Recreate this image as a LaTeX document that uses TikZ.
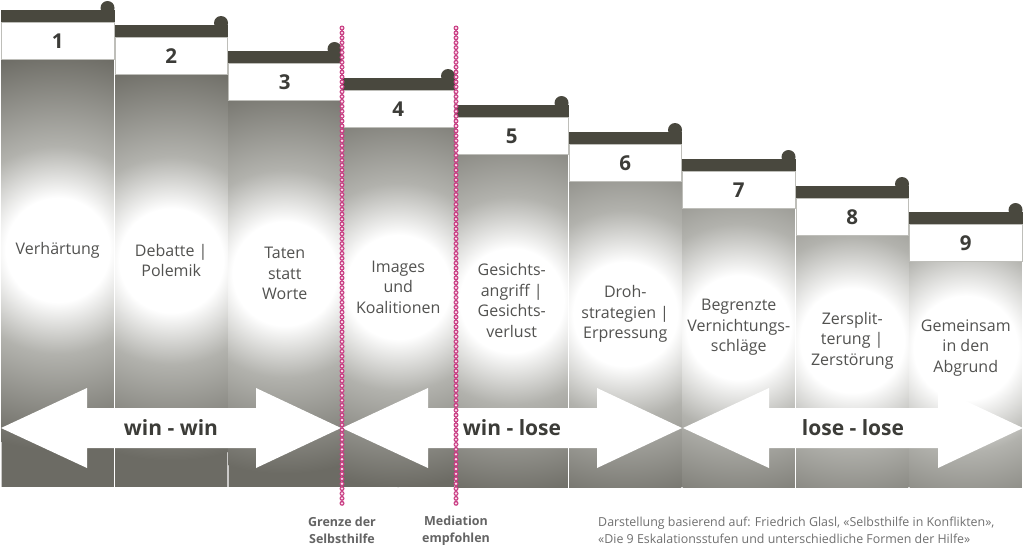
\documentclass[tikz,border=0pt]{standalone}
\usepackage{fontspec}
\setmainfont{Open Sans}
\definecolor{barc}{RGB}{73,72,62}
\definecolor{colbase}{RGB}{108,107,100}
\definecolor{colmid}{RGB}{178,178,173}
\definecolor{txtc}{RGB}{82,82,80}
\definecolor{numc}{RGB}{60,60,56}
\definecolor{dotc}{RGB}{200,60,130}
\definecolor{dotin}{RGB}{252,222,238}
\definecolor{smallc}{RGB}{100,100,100}
\definecolor{srcc}{RGB}{112,112,112}
\definecolor{boxline}{RGB}{190,190,185}
\pgfdeclareradialshading{glow}{\pgfpoint{0bp}{0bp}}{color(0bp)=(white); color(6.5bp)=(white); color(13bp)=(colmid); color(25bp)=(colbase); color(50bp)=(colbase)}
\tikzset{
  numstyle/.style={text=numc, font=\fontsize{20.5}{24}\selectfont\bfseries, inner sep=0pt},
  txtstyle/.style={text=txtc, font=\fontsize{16}{20.5}\selectfont, align=center, inner sep=0pt},
  arrowlab/.style={text=numc, font=\fontsize{21}{24}\selectfont\bfseries, inner sep=0pt},
  smalllab/.style={text=smallc, font=\fontsize{12.5}{17}\selectfont\bfseries, align=center, inner sep=0pt},
  srcstyle/.style={text=srcc, font=\fontsize{12.4}{17}\selectfont, align=left, inner sep=0pt, anchor=west},
  whitebox/.style={fill=white, draw=boxline, line width=0.6pt},
  bigarrow/.style={fill=white},
  dotouter/.style={draw=dotc, line width=5pt, line cap=round, dash pattern=on 0pt off 4.9pt},
  dotinner/.style={draw=dotin, line width=2.6pt, line cap=round, dash pattern=on 0pt off 4.9pt}
}
\begin{document}
\begin{tikzpicture}[x=1pt,y=-1pt]
\useasboundingbox (0,0) rectangle (1024,547);
\fill[white] (0,0) rectangle (1024,547);
\foreach \i/\T/\cy/\t in {
  1/22/250/{Verhärtung},
  2/37/260.5/{Debatte |\\Polemik},
  3/63/273.5/{Taten\\statt\\Worte},
  4/90/287/{Images\\und\\Koalitionen},
  5/117/300.5/{Gesichts-\\angriff |\\Gesichts-\\verlust},
  6/144/314/{Droh-\\strategien |\\Erpressung},
  7/171/327.5/{Begrenzte\\Vernichtungs-\\schläge},
  8/198/340.5/{Zersplit-\\terung |\\Zerstörung},
  9/224/348/{Gemeinsam\\in den\\Abgrund}}
{
  \pgfmathsetmacro\L{1+113.5*(\i-1)}
  \pgfmathsetmacro\R{\L+113.5}
  \pgfmathsetmacro\cx{\L+56.75}
  \pgfmathsetmacro\B{\T+37}
  \begin{scope}
    \clip (\L+0.7,\B) rectangle (\R-0.7,487);
    \fill[colbase] (\L,\B) rectangle (\R,487);
    \shade[shading=glow] (\cx,\cy) circle[radius=200pt];
  \end{scope}
  \fill[barc] (\L,\T-12) rectangle (\R,\T);
  \fill[barc] (\R-7,\T-14) circle[radius=7pt];
  \draw[whitebox] (\L+0.3,\T) rectangle (\R-0.3,\B);
  \node[numstyle] (num\i) at (\cx,\T+19.5) {\i};
  \node[txtstyle] (lab\i) at (\cx,\cy) {\t};
}
% arrows
\foreach \a/\b/\lab/\n in {1/341/{win - win}/1, 342/682/{win - lose}/2, 683/1023/{lose - lose}/3}{
  \fill[bigarrow] (\a,428) -- (\a+86,388) -- (\a+86,408) -- (\b-85,408) -- (\b-85,388)
     -- (\b,428) -- (\b-85,468) -- (\b-85,448) -- (\a+86,448) -- (\a+86,468) -- cycle;
  \node[arrowlab] (arr\n) at ({(\a+\b)/2},428) {\lab};
}
% dotted lines
\coordinate (g1t) at (342,28);
\coordinate (g1b) at (342,508);
\coordinate (g2t) at (456,28);
\coordinate (g2b) at (456,508);
\draw[dotouter] (g1t) -- (g1b);
\draw[dotinner] (g1t) -- (g1b);
\draw[dotouter] (g2t) -- (g2b);
\draw[dotinner] (g2t) -- (g2b);
\node[smalllab] (grenze) at (342,530.5) {Grenze der\\Selbsthilfe};
\node[smalllab] (mediation) at (456,530.5) {Mediation\\empfohlen};
\node[srcstyle] (src) at (598,530.5) {Darstellung basierend auf: Friedrich Glasl, «Selbsthilfe in Konflikten»,\\«Die 9 Eskalationsstufen und unterschiedliche Formen der Hilfe»};
\end{tikzpicture}
\end{document}
